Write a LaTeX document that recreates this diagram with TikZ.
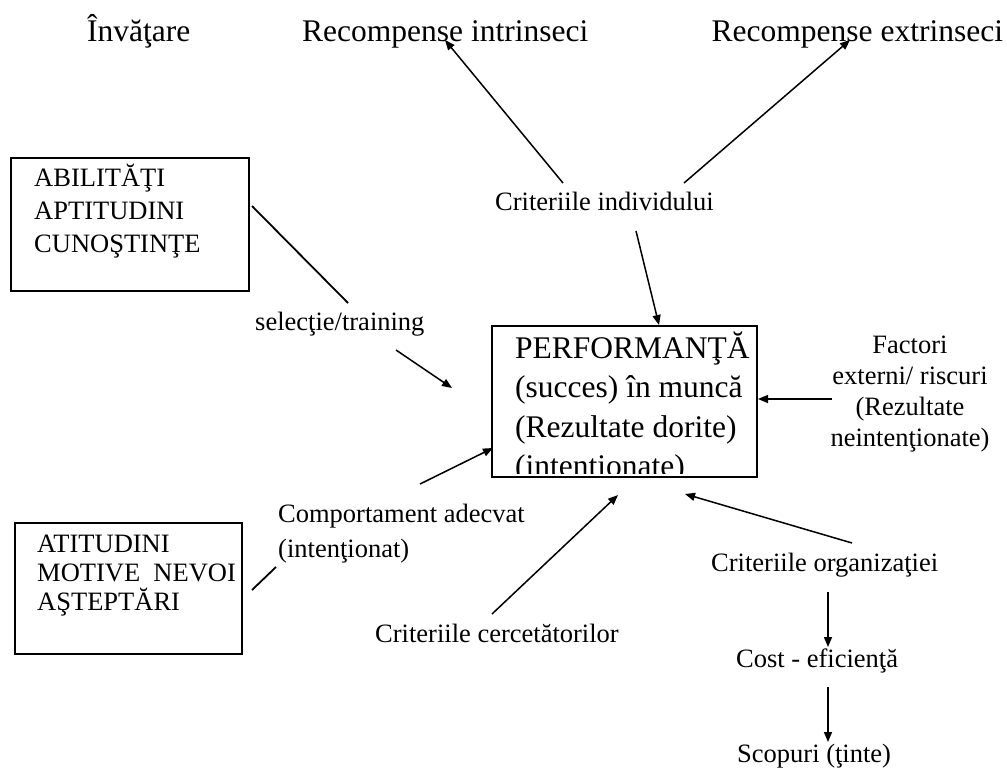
\documentclass[tikz,border=0pt]{standalone}
\usepackage{fontspec}
\setmainfont{Liberation Serif}
\usetikzlibrary{arrows.meta}
\begin{document}
\begin{tikzpicture}[x=1pt,y=-1pt,
  big/.style={font=\fontsize{31.5}{39.5}\selectfont, inner sep=0pt, anchor=base west},
  lbl/.style={font=\fontsize{26.5}{33}\selectfont, inner sep=0pt, anchor=base west},
  frame/.style={draw, line width=1.7pt, inner sep=0pt},
  arr/.style={line width=1.5pt, -{Triangle[length=10pt,width=8pt]}},
  tie/.style={line width=1.8pt},
]
\useasboundingbox (0,0) rectangle (1007,769);

% top row
\node[big] (invatare) at (87,41) {Învăţare};
\node[big] (rint) at (302,41) {Recompense intrinseci};
\node[big] (rext) at (711.5,41) {Recompense extrinseci};

% boxes on the left
\node[frame, minimum width=238, minimum height=133] (abil) at (130,224.5) {};
\node[lbl, text width=200pt, align=flush left] (abiltxt) at (34,186)
  {ABILITĂŢI\\APTITUDINI\\CUNOŞTINŢE};
\node[frame, minimum width=227, minimum height=131] (atit) at (128.5,588.5) {};
\node[lbl, font=\fontsize{26.5}{29}\selectfont, text width=205pt, align=flush left] (atittxt) at (37,552)
  {ATITUDINI\\MOTIVE~~NEVOI\\AŞTEPTĂRI};

% central box, its last line cut by the frame
\node[frame, line width=2.2pt, minimum width=265, minimum height=151] (perf) at (624.5,401.5) {};
\begin{scope}
  \clip (494,328) rectangle (755,473.5);
  \node[big, text width=250pt, align=flush left] (perftxt) at (515,358)
    {PERFORMANŢĂ\\(succes) în muncă\\(Rezultate dorite)\\(intenţionate)};
\end{scope}

% labels
\node[lbl] (cind) at (495,210) {Criteriile individului};
\node[lbl] (sel) at (255,330) {selecţie/training};
\node[lbl, font=\fontsize{26.5}{31}\selectfont, text width=200pt, align=flush center, anchor=base] (fact) at (910,353)
  {Factori\\externi/ riscuri\\(Rezultate\\neintenţionate)};
\node[lbl, font=\fontsize{26.5}{35}\selectfont, text width=260pt, align=flush left] (comp) at (278,522)
  {Comportament adecvat\\(intenţionat)};
\node[lbl] (ccerc) at (375,642) {Criteriile cercetătorilor};
\node[lbl] (corg) at (711,571) {Criteriile organizaţiei};
\node[lbl] (cost) at (736,667) {Cost - eficienţă};
\node[lbl] (scop) at (737,762) {Scopuri (ţinte)};

% connector ends
\coordinate (cind-l) at (563,183);
\coordinate (cind-r) at (684,183);
\coordinate (cind-b) at (636,231);
\coordinate (rint-t) at (445,40);
\coordinate (rext-t) at (850,40);
\coordinate (perf-top) at (659,325);
\coordinate (abil-e) at (252,206);
\coordinate (sel-n) at (348,303);
\coordinate (sel-s) at (396,350);
\coordinate (perf-sel) at (452,388);
\coordinate (fact-w) at (832,399);
\coordinate (perf-e) at (758,399);
\coordinate (comp-s) at (420,484);
\coordinate (perf-w) at (493,448);
\coordinate (atit-e) at (252,590);
\coordinate (comp-w) at (276,567);
\coordinate (ccerc-n) at (492,614);
\coordinate (perf-s) at (618,495);
\coordinate (corg-n) at (852,543);
\coordinate (perf-se) at (685,494);
\coordinate (corg-s) at (828,592);
\coordinate (cost-n) at (828,647);
\coordinate (cost-s) at (828,687);
\coordinate (scop-n) at (828,742);

% connectors
\draw[arr] (cind-l) -- (rint-t);
\draw[arr] (cind-r) -- (rext-t);
\draw[arr] (cind-b) -- (perf-top);
\draw[tie] (abil-e) -- (sel-n);
\draw[arr] (sel-s) -- (perf-sel);
\draw[arr] (fact-w) -- (perf-e);
\draw[arr] (comp-s) -- (perf-w);
\draw[tie] (atit-e) -- (comp-w);
\draw[arr] (ccerc-n) -- (perf-s);
\draw[arr] (corg-n) -- (perf-se);
\draw[arr] (corg-s) -- (cost-n);
\draw[arr] (cost-s) -- (scop-n);
\end{tikzpicture}
\end{document}
